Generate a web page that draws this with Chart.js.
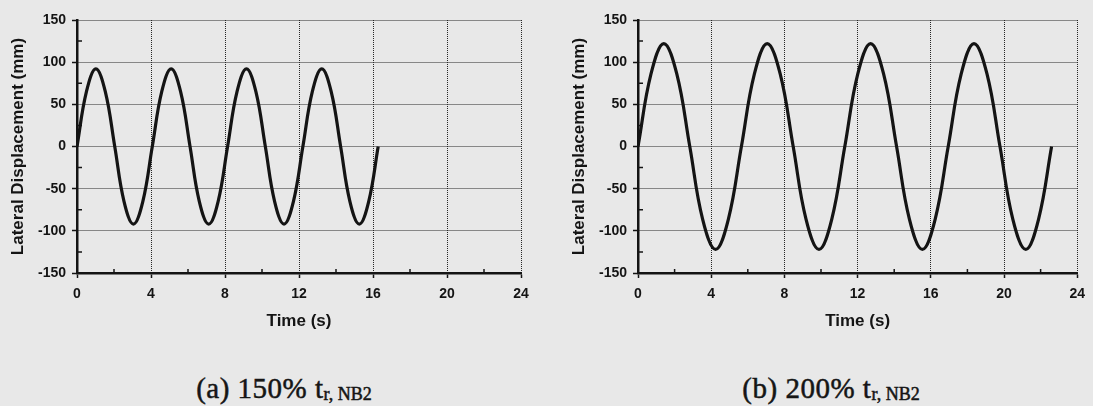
<!DOCTYPE html>
<html>
<head>
<meta charset="utf-8">
<script src="https://cdn.jsdelivr.net/npm/chart.js@4"></script>
<style>
  html, body { margin: 0; padding: 0; background: #e8e8e8; }
  body { width: 1093px; height: 406px; position: relative; overflow: hidden; }
  canvas { position: absolute; top: 0; }
  #chart-a { left: 0; }
  #chart-b { left: 561px; }
  .caption {
    position: absolute; top: 372px; line-height: 32px;
    font-family: "Liberation Serif", serif; font-size: 29px; letter-spacing: 0.5px; color: #151515;
    -webkit-text-stroke: 0.5px #151515;
    white-space: nowrap; transform: translateX(-50%);
  }
  .caption sub { font-size: 18px; letter-spacing: 0; vertical-align: baseline; position: relative; top: 2px; }
</style>
</head>
<body>
<canvas id="chart-a" width="546" height="345"></canvas>
<canvas id="chart-b" width="532" height="345"></canvas>
<div class="caption" style="left:284px">(a) 150% t<sub>r, NB2</sub></div>
<div class="caption" style="left:831px">(b) 200% t<sub>r, NB2</sub></div>
<script>
const xTicks = [0, 4, 8, 12, 16, 20, 24]
const yTicks = [-150, -100, -50, 0, 50, 100, 150]
const minorX = [2, 6, 10, 14, 18, 22]
const minorY = [-125, -75, -25, 25, 75, 125]

// (a) 150% run
const timeA = [0, 0.51, 1.02, 1.53, 2.04, 2.54, 3.05, 3.56, 4.07, 4.58, 5.09, 5.6, 6.11, 6.61, 7.12, 7.63, 8.14,
    8.65, 9.16, 9.67, 10.18, 10.68, 11.19, 11.7, 12.21, 12.72, 13.23, 13.74, 14.25, 14.75, 15.26, 15.77, 16.28]
const dispA = [0, 65, 92, 65, 0, -65, -92, -65, 0, 65, 92, 65, 0, -65, -92, -65, 0,
    65, 92, 65, 0, -65, -92, -65, 0, 65, 92, 65, 0, -65, -92, -65, 0]

// (b) 200% run
const timeB = [0, 0.71, 1.41, 2.12, 2.83, 3.53, 4.24, 4.94, 5.65, 6.36, 7.06, 7.77, 8.48, 9.18, 9.89, 10.59, 11.3,
    12.01, 12.71, 13.42, 14.13, 14.83, 15.54, 16.24, 16.95, 17.66, 18.36, 19.07, 19.78, 20.48, 21.19, 21.89, 22.6]
const dispB = [0, 86, 122, 86, 0, -86, -122, -86, 0, 86, 122, 86, 0, -86, -122, -86, 0,
    86, 122, 86, 0, -86, -122, -86, 0, 86, 122, 86, 0, -86, -122, -86, 0]

const ink = '#141414'
const gridInk = '#262626'
const tickFont = { family: 'Liberation Sans', weight: 'bold', size: 14 }
const titleFont = { family: 'Liberation Sans', weight: 'bold', size: 17 }

// small inward ticks between the labelled ones
const minorTicks = {
    id: 'minorTicks',
    afterDraw(chart) {
        const { ctx, chartArea, scales: { x, y } } = chart

        ctx.save()
        ctx.strokeStyle = ink
        ctx.lineWidth = 1.5
        ctx.beginPath()

        minorX.forEach(v => {
            const px = x.getPixelForValue(v)
            ctx.moveTo(px, chartArea.bottom)
            ctx.lineTo(px, chartArea.bottom - 4)
        })

        minorY.forEach(v => {
            const py = y.getPixelForValue(v)
            ctx.moveTo(chartArea.left, py)
            ctx.lineTo(chartArea.left + 5, py)
        })

        ctx.stroke()
        ctx.restore()
    }
}

const makeChart = (canvas, times, disp, rightPad) => new Chart(canvas.getContext('2d'), {
    type: 'line',
    data: {
        datasets: [{
            data: times.map((t, i) => ({ x: t, y: disp[i] })),
            borderColor: ink,
            borderWidth: 3.2,
            pointRadius: 0,
            tension: 0.4,
            fill: false
        }]
    },
    options: {
        responsive: false,
        animation: false,
        layout: { padding: { top: 20, right: rightPad, left: 0, bottom: 0 } },
        plugins: { legend: { display: false }, tooltip: { enabled: false } },
        scales: {
            x: {
                type: 'linear',
                min: 0,
                max: 24,
                afterBuildTicks: scale => { scale.ticks = xTicks.map(value => ({ value })) },
                afterFit: scale => { scale.height = 72 },
                grid: { color: gridInk, lineWidth: 1, tickLength: 5, tickColor: ink, tickWidth: 1.5 },
                border: { color: ink, width: 2.5, dash: [1, 1] },
                ticks: { color: ink, font: tickFont, padding: 8, maxRotation: 0 },
                title: { display: true, text: 'Time (s)', color: ink, font: titleFont, padding: { top: 0, bottom: 13 } }
            },
            y: {
                min: -150,
                max: 150,
                afterBuildTicks: scale => { scale.ticks = yTicks.map(value => ({ value })) },
                afterFit: scale => { scale.width = 77 },
                grid: { color: gridInk, lineWidth: 1, tickLength: 5, tickColor: ink, tickWidth: 1.5 },
                border: { color: ink, width: 2.5, dash: [1, 1] },
                ticks: { color: ink, font: tickFont, padding: 6 },
                title: { display: true, text: 'Lateral Displacement (mm)', color: ink, font: titleFont, padding: { top: 8, bottom: 0 } }
            }
        }
    },
    plugins: [minorTicks]
})

makeChart(document.querySelector('#chart-a'), timeA, dispA, 25)
makeChart(document.querySelector('#chart-b'), timeB, dispB, 11)
</script>
</body>
</html>
